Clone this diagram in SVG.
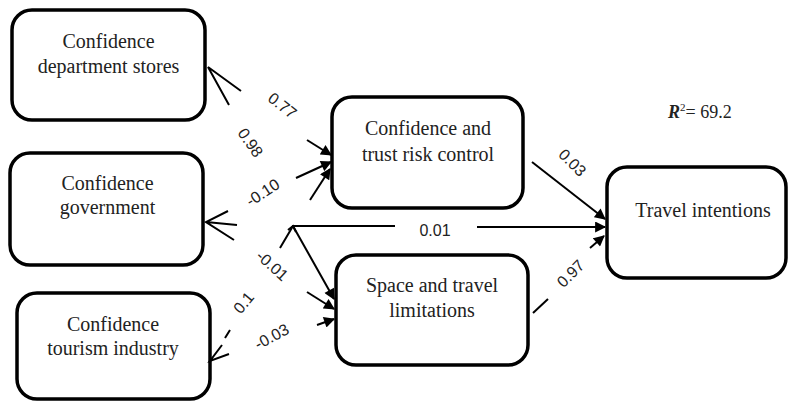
<svg xmlns="http://www.w3.org/2000/svg" width="788" height="403" viewBox="0 0 788 403">
<style>
.box{fill:#fff;stroke:#000;stroke-width:3.5}
.t{font-family:"Liberation Serif","Times New Roman",serif;font-size:20px;fill:#222;text-anchor:middle}
.c{fill:none;stroke:#000;stroke-width:2;stroke-linecap:butt}
.lb{font-family:"Liberation Sans",Arial,sans-serif;font-size:16px;fill:#222;text-anchor:middle}
</style>
<defs>
<marker id="ah" viewBox="0 0 10 10" refX="9" refY="5" markerWidth="6" markerHeight="5.5" markerUnits="strokeWidth" orient="auto">
<path d="M0,0 L10,5 L0,10 Z" fill="#000"/>
</marker>
</defs>
<rect width="788" height="403" fill="#fff"/>
<g id="n-dept">
<rect class="box" x="12" y="10" width="193" height="110" rx="20"/>
<text class="t" x="108.5" y="48">Confidence</text>
<text class="t" x="108.5" y="73">department stores</text>
</g>
<g id="n-gov">
<rect class="box" x="10" y="153" width="193" height="112" rx="20"/>
<text class="t" x="107.5" y="190">Confidence</text>
<text class="t" x="107.5" y="214">government</text>
</g>
<g id="n-tour">
<rect class="box" x="17" y="293" width="193" height="106" rx="20"/>
<text class="t" x="113" y="331">Confidence</text>
<text class="t" x="113" y="355">tourism industry</text>
</g>
<g id="n-trust">
<rect class="box" x="332" y="97" width="191" height="111" rx="20"/>
<text class="t" x="428" y="135">Confidence and</text>
<text class="t" x="428" y="161">trust risk control</text>
</g>
<g id="n-space">
<rect class="box" x="336" y="255" width="192" height="110" rx="20"/>
<text class="t" x="432" y="292">Space and travel</text>
<text class="t" x="432" y="317">limitations</text>
</g>
<g id="n-travel">
<rect class="box" x="607" y="167" width="179" height="111" rx="20"/>
<text class="t" x="703" y="217">Travel intentions</text>
</g>
<g id="r2">
<text x="668" y="118" font-family="Liberation Serif,'Times New Roman',serif" font-size="18" fill="#222"><tspan font-weight="bold" font-style="italic">R</tspan><tspan font-size="11" dy="-7">2</tspan><tspan dy="7">= 69.2</tspan></text>
</g>
<g id="connectors">
<path class="c" d="M241,91 L208,67 L229,105"/>
<path class="c" d="M228,211 L206,222 L234,240 M206,222 L237,225"/>
<path class="c" d="M229,354 L210,361 L222,345 M225,338 L230,330"/>
<line class="c" x1="307" y1="140" x2="331" y2="155" marker-end="url(#ah)"/>
<line class="c" x1="296" y1="178" x2="331" y2="162" marker-end="url(#ah)"/>
<line class="c" x1="310" y1="200" x2="330" y2="169" marker-end="url(#ah)"/>
<path class="c" d="M280,248 L293,226 L395,226"/>
<path class="c" d="M288,230 L293,226 L296,232"/>
<line class="c" x1="293" y1="226" x2="334" y2="299" marker-end="url(#ah)"/>
<line class="c" x1="307" y1="292" x2="334" y2="309" marker-end="url(#ah)"/>
<line class="c" x1="317" y1="325" x2="334" y2="319" marker-end="url(#ah)"/>
<line class="c" x1="532" y1="162" x2="605" y2="219" marker-end="url(#ah)"/>
<line class="c" x1="477" y1="227" x2="605" y2="227" marker-end="url(#ah)"/>
<line class="c" x1="590" y1="248" x2="604" y2="236" marker-end="url(#ah)"/>
<line class="c" x1="533" y1="313" x2="548" y2="299"/>
</g>
<g id="labels">
<text class="lb" transform="translate(282,106) rotate(38)" y="5">0.77</text>
<text class="lb" transform="translate(250,143) rotate(55)" y="5">0.98</text>
<text class="lb" transform="translate(263,193) rotate(-33)" y="5">-0.10</text>
<text class="lb" transform="translate(272,266) rotate(42)" y="5">-0.01</text>
<text class="lb" transform="translate(244,303) rotate(-50)" y="5">0.1</text>
<text class="lb" transform="translate(272,337) rotate(-28)" y="5">-0.03</text>
<text class="lb" x="435" y="236">0.01</text>
<text class="lb" transform="translate(572,163) rotate(45)" y="5">0.03</text>
<text class="lb" transform="translate(571,274) rotate(-45)" y="5">0.97</text>
</g>
</svg>
